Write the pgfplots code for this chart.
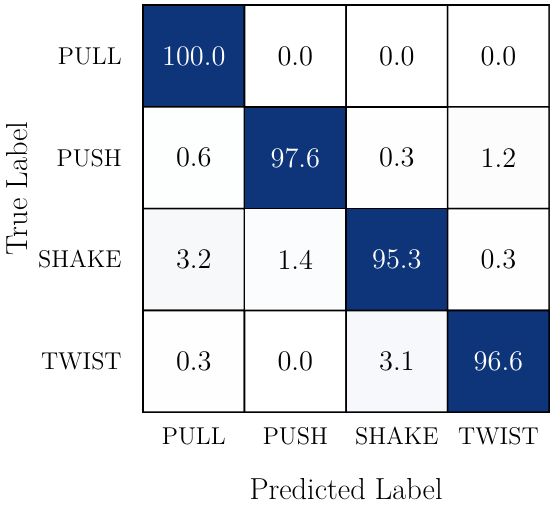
\documentclass[border=0pt]{standalone}
\usepackage{pgfplots}
\pgfplotsset{compat=1.18}
\usepackage{pgfplotstable}

% confusion matrix, rows = true label, cols = predicted label
\pgfplotstableread{
x y C
0 0 100.0
1 0 0.0
2 0 0.0
3 0 0.0
0 1 0.6
1 1 97.6
2 1 0.3
3 1 1.2
0 2 3.2
1 2 1.4
2 2 95.3
3 2 0.3
0 3 0.3
1 3 0.0
2 3 3.1
3 3 96.6
}\cmtable

\begin{document}
\begin{tikzpicture}
\begin{axis}[
  name=cm,
  scale only axis,
  width=200.5pt, height=201pt,
  xmin=-0.5, xmax=3.5, ymin=-0.5, ymax=3.5,
  y dir=reverse,
  enlargelimits=false,
  xtick={0,1,2,3}, ytick={0,1,2,3},
  xticklabels={PULL,PUSH,SHAKE,TWIST},
  yticklabels={PULL,PUSH,SHAKE,TWIST},
  major tick length=0pt,
  tick label style={font=\fontsize{12}{14}\selectfont},
  xticklabel style={yshift=-4pt},
  yticklabel style={xshift=-7pt},
  axis line style={black, line width=0.8pt},
  xlabel={Predicted Label},
  ylabel={True Label},
  every axis x label/.style={at={(axis description cs:0.5,0)}, anchor=center, yshift=-38pt, font=\fontsize{15}{17}\selectfont},
  every axis y label/.style={at={(axis description cs:0,0.55)}, xshift=-62pt, rotate=90, anchor=center, font=\fontsize{15}{17}\selectfont},
  colormap={navy}{rgb255=(255,255,255) rgb255=(14,52,122)},
  point meta min=0, point meta max=95,
]
\addplot[
  matrix plot*,
  mesh/cols=4,
  point meta=explicit,
  draw=black, line width=0.8pt,
] table[x=x, y=y, meta=C] {\cmtable};
% cell values: light text on dark cells
\addplot[
  only marks, mark=none,
  point meta=explicit symbolic,
  restrict expr to domain={\thisrow{C}}{50:101},
  nodes near coords,
  every node near coord/.style={anchor=center, text=white, font=\fontsize{14}{16}\selectfont},
] table[x=x, y=y, meta=C] {\cmtable};
% dark text on light cells
\addplot[
  only marks, mark=none,
  point meta=explicit symbolic,
  restrict expr to domain={\thisrow{C}}{-1:50},
  nodes near coords,
  every node near coord/.style={anchor=center, text=black, font=\fontsize{14}{16}\selectfont},
] table[x=x, y=y, meta=C] {\cmtable};
\end{axis}
\path (cm.north) -- ++(0,2.5pt);
\end{tikzpicture}
\end{document}
